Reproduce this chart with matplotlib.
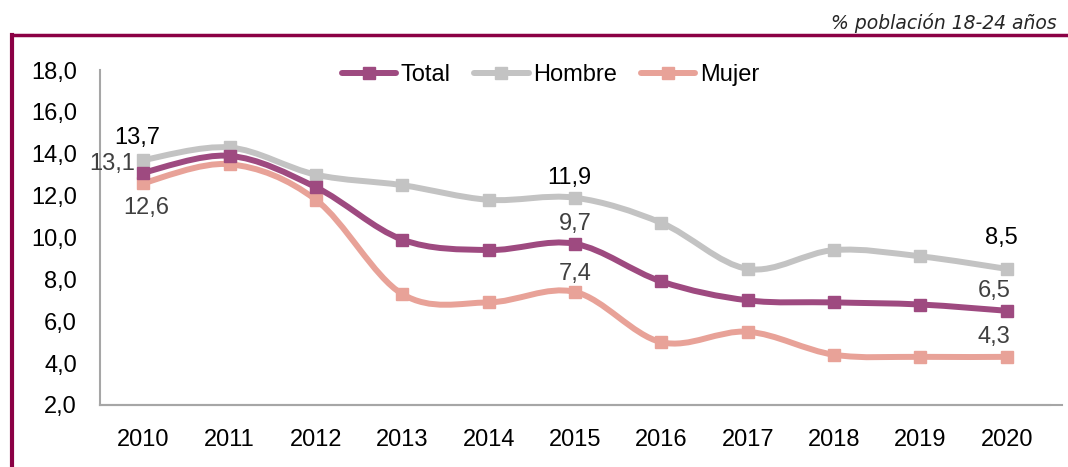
import matplotlib
matplotlib.use("Agg")
import matplotlib.pyplot as plt
from matplotlib.path import Path
from matplotlib.patches import PathPatch
from matplotlib.lines import Line2D
import numpy as np

years = ["2010", "2011", "2012", "2013", "2014", "2015", "2016", "2017", "2018", "2019", "2020"]
total = [13.1, 13.9, 12.4, 9.9, 9.4, 9.7, 7.9, 7.0, 6.9, 6.8, 6.5]
hombre = [13.7, 14.3, 13.0, 12.5, 11.8, 11.9, 10.7, 8.5, 9.4, 9.1, 8.5]
mujer = [12.6, 13.5, 11.8, 7.3, 6.9, 7.4, 5.0, 5.5, 4.4, 4.3, 4.3]
series_names = ["Total", "Hombre", "Mujer"]
yticks = [2.0, 4.0, 6.0, 8.0, 10.0, 12.0, 14.0, 16.0, 18.0]

colors = {"Total": "#9E4A80", "Hombre": "#C3C3C3", "Mujer": "#E8A298"}
FONT = ["Liberation Sans Narrow", "Liberation Sans", "DejaVu Sans"]
plt.rcParams["font.family"] = FONT

fig = plt.figure(figsize=(10.68, 4.67), dpi=100)
ax = fig.add_axes([100 / 1068, 1 - 405 / 467, 950 / 1068, 335 / 467])

x = np.arange(len(years))


def smooth_path(xs, ys):
    pts = np.column_stack([xs, ys]).astype(float)
    n = len(pts)
    verts = [pts[0]]
    codes = [Path.MOVETO]
    for i in range(n - 1):
        p0 = pts[i - 1] if i > 0 else pts[i]
        p1 = pts[i]
        p2 = pts[i + 1]
        p3 = pts[i + 2] if i + 2 < n else pts[i + 1]
        c1 = p1 + (p2 - p0) / 6.0
        c2 = p2 - (p3 - p1) / 6.0
        verts += [c1, c2, p2]
        codes += [Path.CURVE4] * 3
    return Path(verts, codes)


data = {"Total": total, "Hombre": hombre, "Mujer": mujer}
order = ["Hombre", "Mujer", "Total"]
for z, name in enumerate(order):
    vals = data[name]
    patch = PathPatch(smooth_path(x, vals), facecolor="none", edgecolor=colors[name],
                      lw=4.3, capstyle="round", joinstyle="round", zorder=2 + z)
    ax.add_patch(patch)
    ax.plot(x, vals, ls="none", marker="s", ms=9, color=colors[name], zorder=2.5 + z)

ax.set_xlim(-0.5, len(years) - 0.5)
ax.set_ylim(2, 18)
ax.set_yticks(yticks)
ax.set_yticklabels([f"{v:.1f}".replace(".", ",") for v in yticks])
ax.set_xticks(x)
ax.set_xticklabels(years)
ax.tick_params(axis="both", length=0, labelsize=17, colors="#000000")
ax.tick_params(axis="y", pad=16.5)
ax.tick_params(axis="x", pad=17)
for s in ["top", "right"]:
    ax.spines[s].set_visible(False)
for s in ["left", "bottom"]:
    ax.spines[s].set_color("#A6A6A6")
    ax.spines[s].set_linewidth(1.5)
ax.axhline(2, 0, 1.013, color="#A6A6A6", lw=1.5, clip_on=False, zorder=1)

# data labels
def lab(i, vals, dy, color, dx=0, ha="center"):
    ax.annotate(f"{vals[i]:.1f}".replace(".", ","), (x[i], vals[i]), xytext=(dx, dy),
                textcoords="offset points", ha=ha, va="center", fontsize=17, color=color)

dark = "#404040"
lab(0, hombre, 16, "#000000", dx=-4)
lab(0, total, 6, dark, dx=-6, ha="right")
lab(0, mujer, -18, dark, dx=2)
lab(5, hombre, 14, "#000000", dx=-4)
lab(5, total, 14, dark)
lab(5, mujer, 13, dark)
lab(10, hombre, 22, "#000000", dx=-4)
lab(10, total, 14, dark, dx=-9)
lab(10, mujer, 14, dark, dx=-9)

handles = [Line2D([], [], color=colors[n], lw=4.3, marker="s", ms=9, solid_capstyle="round")
           for n in series_names]
ax.legend(handles, series_names, loc="center", bbox_to_anchor=(0.474, 0.985), ncol=3,
          frameon=False, fontsize=17, handlelength=2.3, handletextpad=0.2,
          columnspacing=1.0, borderaxespad=0)

# frame decoration
fig.add_artist(Line2D([12 / 1068, 1.0], [1 - 35 / 467, 1 - 35 / 467], color="#8B0045", lw=2.5,
                      transform=fig.transFigure))
fig.add_artist(Line2D([12 / 1068, 12 / 1068], [0, 1 - 35 / 467], color="#8B0045", lw=3,
                      transform=fig.transFigure))
fig.text(1057 / 1068, 1 - 23 / 467, "% población 18-24 años", ha="right", va="center",
         fontsize=13.5, style="italic", color="#262626", family=["DejaVu Sans"])

fig.savefig("out.png", dpi=100)
